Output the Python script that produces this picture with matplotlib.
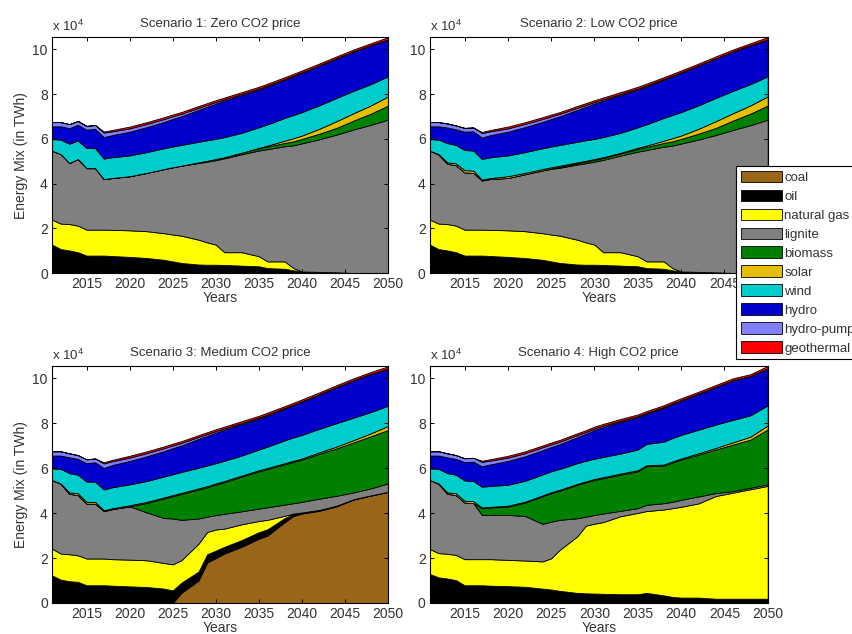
import matplotlib
matplotlib.use('Agg')
import matplotlib.pyplot as plt
from matplotlib import font_manager

# ---------------- data (values in units of 10^4 TWh) ----------------
years = [2011, 2012, 2013, 2014, 2015, 2016, 2017, 2018, 2020, 2022, 2024, 2025, 2026,
         2028, 2029, 2030, 2031, 2033, 2035, 2036, 2038, 2039, 2040, 2042, 2044, 2046, 2048, 2050]

labels = ['coal', 'oil', 'natural gas', 'lignite', 'biomass', 'solar', 'wind', 'hydro',
          'hydro-pump', 'geothermal']
titles = ['Scenario 1: Zero CO2 price', 'Scenario 2: Low CO2 price',
          'Scenario 3: Medium CO2 price', 'Scenario 4: High CO2 price']
xticks = [2015, 2020, 2025, 2030, 2035, 2040, 2045, 2050]
yticks = [0, 2, 4, 6, 8, 10]

# renewables shared by the scenarios
wind = [0.52, 0.65, 0.86, 0.83, 0.90, 0.90, 0.92, 0.93, 0.93, 0.93, 0.93, 0.93, 0.93,
        0.92, 0.92, 0.90, 0.90, 0.89, 0.92, 0.95, 1.02, 1.04, 1.05, 1.05, 1.04, 1.00, 0.95, 0.90]
hydro_pump = [0.19, 0.19, 0.18, 0.17, 0.17, 0.17, 0.20, 0.17, 0.15, 0.14, 0.13, 0.12, 0.11,
              0.09, 0.08, 0.07, 0.06, 0.05, 0.05, 0.05, 0.04, 0.03, 0.03, 0.02, 0.02, 0.02, 0.02, 0.02]
geothermal = [0, 0, 0, 0, 0, 0, 0.05, 0.06, 0.08, 0.08, 0.08, 0.08, 0.08,
              0.08, 0.08, 0.08, 0.08, 0.08, 0.08, 0.08, 0.08, 0.08, 0.08, 0.08, 0.08, 0.08, 0.08, 0.10]

# hydro per scenario
hydro_s1 = [0.57, 0.59, 0.70, 0.70, 0.82, 0.86, 0.96, 0.99, 1.06, 1.12, 1.18, 1.23, 1.28,
            1.43, 1.50, 1.58, 1.63, 1.69, 1.68, 1.69, 1.70, 1.73, 1.75, 1.77, 1.76, 1.75, 1.73, 1.63]
hydro_s2 = [0.57, 0.59, 0.70, 0.70, 0.82, 0.86, 0.96, 0.99, 1.06, 1.12, 1.18, 1.23, 1.28,
            1.43, 1.50, 1.58, 1.63, 1.69, 1.68, 1.69, 1.70, 1.73, 1.75, 1.77, 1.76, 1.75, 1.73, 1.63]
hydro_s3 = [0.57, 0.59, 0.70, 0.70, 0.82, 0.86, 0.96, 0.99, 1.04, 1.10, 1.13, 1.16, 1.18,
            1.28, 1.32, 1.36, 1.38, 1.40, 1.37, 1.38, 1.40, 1.43, 1.47, 1.52, 1.59, 1.65, 1.68, 1.63]
hydro_s4 = [0.57, 0.59, 0.70, 0.70, 0.82, 0.86, 0.91, 0.96, 1.06, 1.09, 1.08, 1.08, 1.10,
            1.16, 1.20, 1.28, 1.33, 1.41, 1.43, 1.33, 1.50, 1.51, 1.52, 1.59, 1.66, 1.75, 1.73, 1.63]

# Scenario 1
coal_s1 = [0] * 28
oil_s1 = [1.27, 1.07, 1.01, 0.93, 0.78, 0.78, 0.78, 0.76, 0.72, 0.67, 0.59, 0.52, 0.45,
          0.38, 0.37, 0.37, 0.36, 0.33, 0.30, 0.22, 0.19, 0.12, 0.07, 0.05, 0.03, 0, 0, 0]
gas_s1 = [1.12, 1.14, 1.18, 1.19, 1.16, 1.16, 1.16, 1.17, 1.19, 1.20, 1.19, 1.20, 1.22,
          1.11, 1.00, 0.90, 0.57, 0.60, 0.45, 0.30, 0.33, 0.10, 0, 0, 0, 0, 0, 0]
lignite_s1 = [3.08, 3.11, 2.73, 2.98, 2.75, 2.75, 2.26, 2.32, 2.42, 2.61, 2.87, 3.01, 3.13,
              3.43, 3.61, 3.78, 4.20, 4.38, 4.73, 5.02, 5.15, 5.49, 5.73, 5.93, 6.16, 6.42, 6.63, 6.86]
biomass_s1 = [0, 0, 0, 0, 0, 0, 0, 0, 0, 0, 0, 0, 0,
              0.03, 0.04, 0.05, 0.05, 0.07, 0.10, 0.12, 0.15, 0.18, 0.20, 0.25, 0.30, 0.40, 0.50, 0.63]
solar_s1 = [0, 0, 0, 0, 0, 0, 0, 0, 0, 0, 0, 0, 0,
            0, 0, 0, 0, 0, 0.02, 0.04, 0.10, 0.14, 0.15, 0.22, 0.30, 0.33, 0.37, 0.41]

# Scenario 2
coal_s2 = [0] * 28
oil_s2 = [1.27, 1.07, 1.01, 0.93, 0.78, 0.78, 0.78, 0.76, 0.72, 0.67, 0.59, 0.52, 0.45,
          0.38, 0.37, 0.37, 0.36, 0.33, 0.30, 0.22, 0.19, 0.12, 0.07, 0.05, 0.03, 0, 0, 0]
gas_s2 = [1.12, 1.14, 1.18, 1.19, 1.16, 1.16, 1.16, 1.17, 1.19, 1.20, 1.19, 1.20, 1.22,
          1.11, 1.00, 0.90, 0.57, 0.60, 0.45, 0.30, 0.33, 0.10, 0, 0, 0, 0, 0, 0]
lignite_s2 = [3.08, 3.09, 2.70, 2.70, 2.56, 2.54, 2.20, 2.28, 2.34, 2.55, 2.81, 2.94, 3.04,
              3.36, 3.54, 3.71, 4.13, 4.32, 4.68, 4.98, 5.13, 5.48, 5.72, 5.92, 6.14, 6.40, 6.61, 6.86]
biomass_s2 = [0, 0, 0, 0, 0, 0, 0, 0, 0, 0, 0, 0.02, 0.04,
              0.06, 0.07, 0.08, 0.09, 0.10, 0.12, 0.14, 0.17, 0.19, 0.21, 0.26, 0.32, 0.42, 0.52, 0.63]
solar_s2 = [0, 0.02, 0.06, 0.08, 0.10, 0.10, 0.04, 0.04, 0.08, 0.06, 0.06, 0.05, 0.05,
            0.04, 0.04, 0.04, 0.03, 0.03, 0.05, 0.06, 0.10, 0.14, 0.15, 0.22, 0.30, 0.33, 0.37, 0.41]

# Scenario 3
coal_s3 = [0, 0, 0, 0, 0, 0, 0, 0, 0, 0, 0, 0, 0.45,
           1.00, 1.80, 2.00, 2.20, 2.50, 2.86, 3.00, 3.60, 3.87, 3.98, 4.10, 4.30, 4.60, 4.78, 4.95]
oil_s3 = [1.23, 1.04, 0.97, 0.94, 0.79, 0.79, 0.79, 0.77, 0.74, 0.71, 0.64, 0.56, 0.45,
          0.40, 0.37, 0.33, 0.30, 0.30, 0.29, 0.28, 0.18, 0.09, 0.05, 0.04, 0.03, 0.02, 0.01, 0]
gas_s3 = [1.19, 1.16, 1.20, 1.18, 1.19, 1.19, 1.19, 1.18, 1.19, 1.19, 1.14, 1.16, 1.00,
          1.24, 0.99, 0.94, 0.81, 0.70, 0.50, 0.42, 0.10, 0.02, 0, 0, 0, 0, 0, 0]
lignite_s3 = [3.05, 3.10, 2.69, 2.68, 2.44, 2.44, 2.11, 2.23, 2.37, 2.13, 2.00, 2.04, 1.80,
              1.12, 0.68, 0.64, 0.66, 0.58, 0.55, 0.56, 0.50, 0.46, 0.47, 0.50, 0.44, 0.30, 0.31, 0.37]
biomass_s3 = [0, 0, 0, 0, 0, 0, 0, 0, 0, 0.42, 0.87, 0.99, 1.15,
              1.29, 1.31, 1.36, 1.41, 1.54, 1.66, 1.70, 1.79, 1.84, 1.88, 2.00, 2.11, 2.23, 2.32, 2.38]
solar_s3 = [0, 0.02, 0.06, 0.08, 0.08, 0.08, 0.04, 0.04, 0.05, 0.05, 0.05, 0.05, 0.05,
            0.05, 0.05, 0.05, 0.05, 0.05, 0.05, 0.05, 0.05, 0.05, 0.05, 0.06, 0.08, 0.10, 0.13, 0.18]

# Scenario 4
coal_s4 = [0, 0, 0, 0, 0, 0, 0, 0, 0, 0, 0, 0, 0,
           0, 0, 0, 0, 0, 0, 0.04, 0.04, 0.04, 0.04, 0.04, 0.04, 0.04, 0.04, 0.04]
oil_s4 = [1.29, 1.14, 1.09, 1.02, 0.79, 0.79, 0.79, 0.77, 0.75, 0.72, 0.64, 0.60, 0.54,
          0.45, 0.43, 0.42, 0.41, 0.39, 0.39, 0.41, 0.30, 0.23, 0.20, 0.20, 0.15, 0.15, 0.15, 0.15]
gas_s4 = [1.11, 1.08, 1.10, 1.12, 1.16, 1.16, 1.16, 1.18, 1.17, 1.17, 1.21, 1.39, 1.83,
          2.51, 3.01, 3.11, 3.19, 3.47, 3.62, 3.64, 3.82, 3.95, 4.04, 4.19, 4.57, 4.72, 4.87, 5.02]
lignite_s4 = [3.07, 3.08, 2.67, 2.66, 2.52, 2.50, 1.97, 1.97, 2.00, 1.98, 1.67, 1.63, 1.33,
              0.81, 0.40, 0.39, 0.38, 0.24, 0.21, 0.28, 0.28, 0.28, 0.31, 0.31, 0.13, 0.07, 0.07, 0.07]
biomass_s4 = [0, 0, 0, 0, 0, 0, 0.30, 0.33, 0.37, 0.60, 1.23, 1.27, 1.30,
              1.49, 1.53, 1.56, 1.57, 1.61, 1.64, 1.71, 1.67, 1.75, 1.79, 1.86, 1.94, 2.07, 2.14, 2.44]
solar_s4 = [0, 0.02, 0.06, 0.08, 0.08, 0.08, 0.03, 0.03, 0.04, 0.04, 0.04, 0.04, 0.04,
            0.04, 0.04, 0.04, 0.05, 0.05, 0.05, 0.05, 0.05, 0.05, 0.05, 0.06, 0.07, 0.10, 0.13, 0.18]

scenarios = [
    [coal_s1, oil_s1, gas_s1, lignite_s1, biomass_s1, solar_s1, wind, hydro_s1, hydro_pump, geothermal],
    [coal_s2, oil_s2, gas_s2, lignite_s2, biomass_s2, solar_s2, wind, hydro_s2, hydro_pump, geothermal],
    [coal_s3, oil_s3, gas_s3, lignite_s3, biomass_s3, solar_s3, wind, hydro_s3, hydro_pump, geothermal],
    [coal_s4, oil_s4, gas_s4, lignite_s4, biomass_s4, solar_s4, wind, hydro_s4, hydro_pump, geothermal],
]

colors = ['#996619', '#000000', '#FFFF00', '#808080', '#008000', '#E6BE00',
          '#00CCCC', '#0000CC', '#8080FF', '#FF0000']

# ---------------- style ----------------
names = {f.name for f in font_manager.fontManager.ttflist}
fam = 'Liberation Sans Narrow' if 'Liberation Sans Narrow' in names else 'Liberation Sans'
plt.rcParams['font.family'] = [fam, 'DejaVu Sans']
plt.rcParams['mathtext.fontset'] = 'custom'
plt.rcParams['mathtext.rm'] = fam
FS = 10
LFS = 9.5
TXT = '#333333'

fig = plt.figure(figsize=(8.53, 6.34), dpi=100)
positions = [(0.061, 0.5694, 0.394, 0.372), (0.504, 0.5694, 0.396, 0.372),
             (0.061, 0.0489, 0.394, 0.374), (0.504, 0.0489, 0.396, 0.374)]

handles = None
for i, (pos, series, title) in enumerate(zip(positions, scenarios, titles)):
    ax = fig.add_axes(pos)
    polys = ax.stackplot(years, *series, colors=colors, labels=labels,
                         edgecolor='black', linewidth=0.6)
    if handles is None:
        handles = polys
    ax.set_xlim(2011, 2050)
    ax.set_ylim(0, 10.55)
    ax.set_xticks(xticks)
    ax.set_yticks(yticks)
    ax.tick_params(direction='in', top=True, right=True, length=3, width=0.7,
                   labelsize=FS, labelcolor=TXT, pad=3)
    for sp in ax.spines.values():
        sp.set_linewidth(0.8)
    ax.set_title(title, fontsize=FS - 0.5, color=TXT, pad=7)
    ax.set_xlabel('Years', fontsize=FS, color=TXT, labelpad=0)
    if i % 2 == 0:
        ax.set_ylabel('Energy Mix (in TWh)', fontsize=FS, color=TXT, labelpad=3)
    ax.text(0.0, 1.012, r'x 10$^4$', transform=ax.transAxes, ha='left', va='bottom',
            fontsize=FS - 0.5, color=TXT)

leg = fig.legend(handles, labels, loc='upper left',
                 bbox_to_anchor=(736 / 853, 1 - 166 / 634), bbox_transform=fig.transFigure,
                 frameon=True, fancybox=False, edgecolor='black', framealpha=1,
                 handlelength=3.1, handleheight=1.0, labelspacing=0.42, handletextpad=0.2,
                 borderpad=0.35, borderaxespad=0, fontsize=LFS)
leg.get_frame().set_linewidth(0.8)
for t in leg.get_texts():
    t.set_color(TXT)

fig.savefig('out.png', dpi=100)
